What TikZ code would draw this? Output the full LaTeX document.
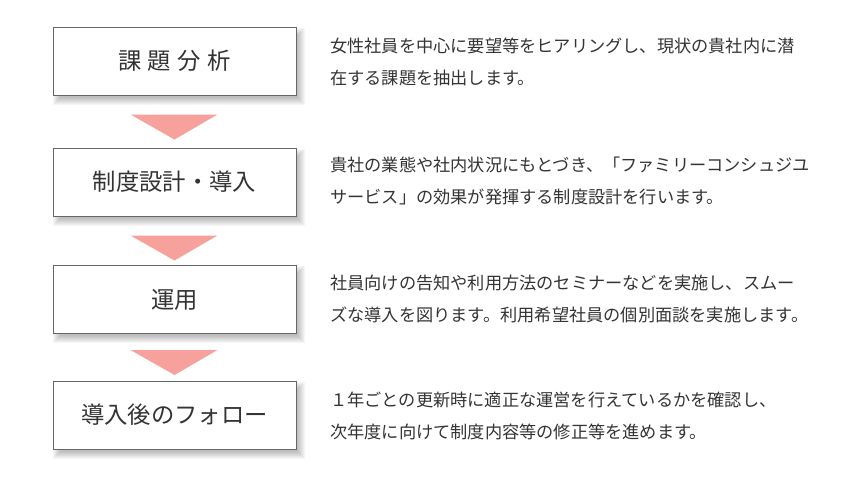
\documentclass[tikz,border=0pt]{standalone}
\usepackage{fontspec}
\setmainfont{Noto Sans CJK JP}
\usetikzlibrary{calc,backgrounds}
\definecolor{txt}{HTML}{333333}
\definecolor{frame}{HTML}{666666}
\definecolor{arrowpink}{HTML}{F6A19B}
\tikzset{
  stepbox/.style={draw=frame, line width=0.75pt, fill=white,
    minimum width=182.25pt, minimum height=51pt, inner sep=0pt,
    text=txt, font=\fontsize{17.5pt}{20pt}\selectfont},
  desc/.style={anchor=west, align=left, text=txt, inner sep=0pt,
    font=\fontsize{12.9pt}{23.6pt}\selectfont},
  flowtri/.style={fill=arrowpink, draw=none}
}
\begin{document}
\begin{tikzpicture}[x=0.75pt,y=-0.75pt]
\useasboundingbox (0,0) rectangle (850,500);

\node[stepbox] (b1) at (174.5,61) {課\hspace{0.28em}題\hspace{0.28em}分\hspace{0.28em}析};
\node[stepbox] (b2) at (174.5,182) {制度設計・導入};
\node[stepbox] (b3) at (174.5,299.5) {運用};
\node[stepbox] (b4) at (174.5,415) {導入後のフォロー};

\begin{scope}[on background layer]
  \foreach \b in {b1,b2,b3,b4}{
    \foreach \e in {4,3,2,1,0,-1,-2,-3}{
      \fill[black, opacity=0.035]
        ($(\b.north west)+(4-\e,5-\e)$) rectangle ($(\b.south east)+(4+\e,5+\e)$);
    }
  }
\end{scope}

\foreach \a/\g in {b1/19,b2/19,b3/16}{
  \coordinate (t\a) at ($(\a.south)+(0,\g)$);
  \fill[flowtri] ($(t\a)+(-44,0)$) -- ($(t\a)+(43,0)$) -- ($(t\a)+(0,25)$) -- cycle;
}

\node[desc] (d1) at (330,62) {女性社員を中心に要望等をヒアリングし、現状の貴社内に潜\\在する課題を抽出します。};
\node[desc] (d2) at (330,181) {貴社の業態や社内状況にもとづき、「ファミリーコンシュジユ\\サービス」の効果が発揮する制度設計を行います。};
\node[desc] (d3) at (330,299) {社員向けの告知や利用方法のセミナーなどを実施し、スムー\\ズな導入を図ります。利用希望社員の個別面談を実施します。};
\node[desc] (d4) at (330,416) {１年ごとの更新時に適正な運営を行えているかを確認し、\\次年度に向けて制度内容等の修正等を進めます。};
\end{tikzpicture}
\end{document}
